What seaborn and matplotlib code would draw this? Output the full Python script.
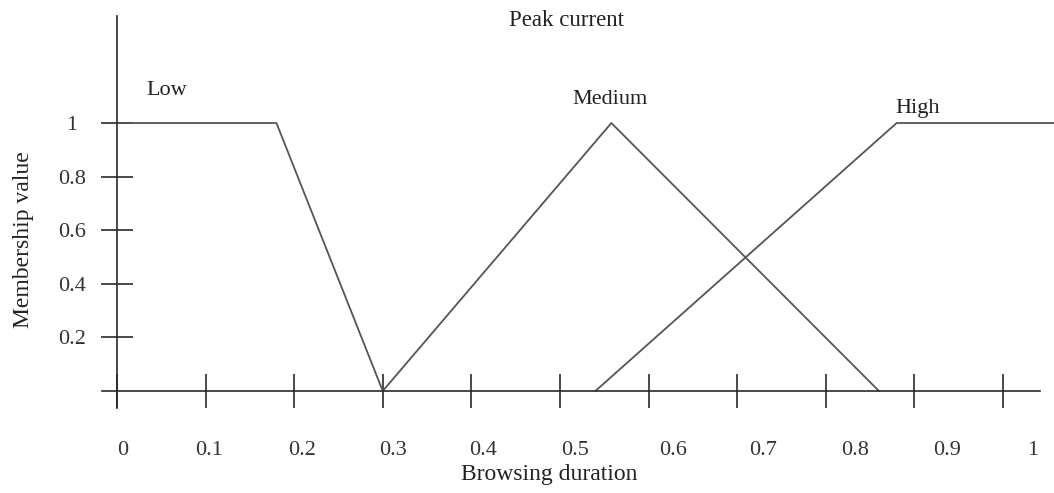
import pandas as pd
import matplotlib.pyplot as plt
import seaborn as sns


sns.set_style("white")
plt.rcParams['font.family'] = ['Liberation Serif', 'DejaVu Serif']

# membership functions (browsing duration -> membership value)
low_x = [0.0, 0.18, 0.30]
low_y = [1.0, 1.0, 0.0]
medium_x = [0.30, 0.558, 0.86]
medium_y = [0.0, 1.0, 0.0]
high_x = [0.54, 0.88, 1.06]
high_y = [0.0, 1.0, 1.0]

x_ticks = [0, 0.1, 0.2, 0.3, 0.4, 0.5, 0.6, 0.7, 0.8, 0.9, 1.0]
x_tick_labels = ['0', '0.1', '0.2', '0.3', '0.4', '0.5', '0.6', '0.7', '0.8', '0.9', '1']
y_ticks = [0.2, 0.4, 0.6, 0.8, 1.0]
y_tick_labels = ['0.2', '0.4', '0.6', '0.8', '1']

df = pd.concat([
    pd.DataFrame({'x': low_x, 'y': low_y, 'set': 'Low'}),
    pd.DataFrame({'x': medium_x, 'y': medium_y, 'set': 'Medium'}),
    pd.DataFrame({'x': high_x, 'y': high_y, 'set': 'High'}),
], ignore_index=True)

fig = plt.figure(figsize=(10.54, 4.93), dpi=100)
ax = fig.add_axes([0, 0, 1, 1])

sns.lineplot(data=df, x='x', y='y', hue='set', units='set', estimator=None,
             sort=False, palette=['#555555'] * 3, linewidth=1.3, legend=False, ax=ax)

ax.set_xlim(-0.132, 1.0576)
ax.set_ylim(-0.3806, 1.459)
ax.set_facecolor('white')

# axes crossing at the origin
for side in ['top', 'right']:
    ax.spines[side].set_visible(False)
ax.spines['left'].set_position(('data', 0))
ax.spines['bottom'].set_position(('data', 0))
ax.spines['left'].set_bounds(-0.065, 1.40)
ax.spines['bottom'].set_bounds(-0.017, 1.042)
for side in ['left', 'bottom']:
    ax.spines[side].set_color('#2a2a2a')
    ax.spines[side].set_linewidth(1.2)

# tick marks (major) and labels (minor, slightly offset like the original)
ax.set_xticks(x_ticks, labels=[''] * len(x_ticks))
label_shift = [0.006, 0.004, 0.009, 0.012, 0.013, 0.017, 0.028, 0.029, 0.033, 0.037, 0.034]
ax.set_xticks([t + s for t, s in zip(x_ticks, label_shift)], labels=x_tick_labels, minor=True)
ax.set_yticks(y_ticks, labels=y_tick_labels)
ax.tick_params(axis='x', which='major', bottom=True, direction='inout', length=25, width=1.2,
               color='#2a2a2a')
ax.tick_params(axis='x', which='minor', bottom=True, length=0, pad=36, labelsize=16,
               labelcolor='#333333')
ax.tick_params(axis='y', which='major', left=True, direction='inout', length=23, width=1.2,
               color='#2a2a2a', pad=21, labelsize=16, labelcolor='#333333')
for lbl in ax.get_yticklabels():
    lbl.set_horizontalalignment('center')

ax.text(0.056, 1.123, 'Low', fontsize=16, ha='center', va='center', color='#222222')
ax.text(0.556, 1.086, 'Medium', fontsize=16, ha='center', va='center', color='#222222')
ax.text(0.904, 1.056, 'High', fontsize=16, ha='center', va='center', color='#222222')
ax.text(0.507, 1.384, 'Peak current', fontsize=16.5, ha='center', va='center', color='#222222')
ax.text(0.4876, -0.31, 'Browsing duration', fontsize=17, ha='center', va='center', color='#222222')
ax.text(-0.106, 0.563, 'Membership value', fontsize=17, ha='center', va='center',
        rotation=90, color='#222222')

ax.set_xlabel('')
ax.set_ylabel('')

plt.savefig('out.png', dpi=100)
